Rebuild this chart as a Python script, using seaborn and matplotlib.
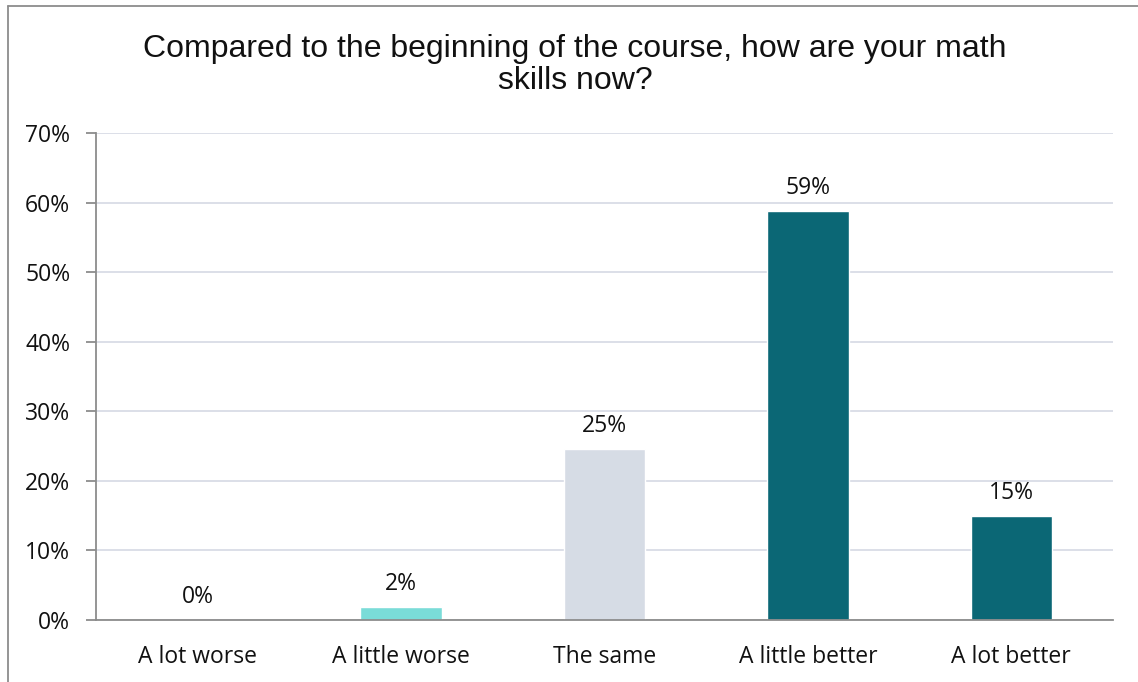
import matplotlib
matplotlib.use("Agg")
import matplotlib.pyplot as plt
import seaborn as sns
import pandas as pd
from matplotlib.lines import Line2D

categories = ["A lot worse", "A little worse", "The same", "A little better", "A lot better"]
values = [0.0, 1.9, 24.6, 58.8, 14.9]
labels = ["0%", "2%", "25%", "59%", "15%"]
colors = ["#7ADCD8", "#7ADCD8", "#D6DCE5", "#0B6775", "#0B6775"]
yticks = [0, 10, 20, 30, 40, 50, 60, 70]
title = "Compared to the beginning of the course, how are your math\nskills now?"

sns.set_theme(style="white")
plt.rcParams["font.family"] = ["Open Sans", "DejaVu Sans"]

df = pd.DataFrame({"cat": categories, "val": values})

fig = plt.figure(figsize=(11.38, 6.82), dpi=100)
ax = fig.add_axes([96/1138, 62/682, (1113-96)/1138, (620-133)/682])

sns.barplot(data=df, x="cat", y="val", hue="cat", palette=colors, legend=False,
            width=0.40, ax=ax, saturation=1)

FS = 16.5
ax.set_ylim(0, 70)
ax.set_xlim(-0.5, 4.5)
ax.set_yticks(yticks)
ax.set_yticklabels([f"{t}%" for t in yticks], fontsize=FS, color="#111111")
ax.yaxis.grid(True, color="#D9DCE6", linewidth=1.3)
ax.set_axisbelow(True)
ax.set_xlabel("")
ax.set_ylabel("")

# category labels
ax.set_xticks(range(len(categories)))
ax.set_xticklabels(categories, fontsize=FS, color="#111111")
ax.tick_params(axis="x", length=0, pad=18)
# boundary ticks
ax.set_xticks([i - 0.5 for i in range(len(categories) + 1)], minor=True)
ax.tick_params(axis="x", which="minor", length=7, width=1.3, color="#8C8C8C", direction="out")
ax.tick_params(axis="y", length=7, width=1.3, color="#8C8C8C", direction="out", left=True, pad=11.5)

for s in ["top", "right"]:
    ax.spines[s].set_visible(False)
for s in ["left", "bottom"]:
    ax.spines[s].set_color("#8C8C8C")
    ax.spines[s].set_linewidth(1.3)

for i, (v, lab) in enumerate(zip(values, labels)):
    ax.annotate(lab, (i, v), xytext=(0, 8), textcoords="offset points",
                ha="center", va="bottom", fontsize=FS, color="#111111")

fig.text(575/1138, 1 - 65/682, title, ha="center", va="center", fontsize=23,
         family=["Liberation Sans", "DejaVu Sans"], color="#111111", linespacing=1.08)

# outer chart border (top and left visible)
fig.add_artist(Line2D([8/1138, 1], [1 - 6/682, 1 - 6/682], transform=fig.transFigure,
                      color="#8C8C8C", linewidth=1.3))
fig.add_artist(Line2D([8/1138, 8/1138], [0, 1 - 6/682], transform=fig.transFigure,
                      color="#8C8C8C", linewidth=1.3))

fig.savefig("out.png", dpi=100)
